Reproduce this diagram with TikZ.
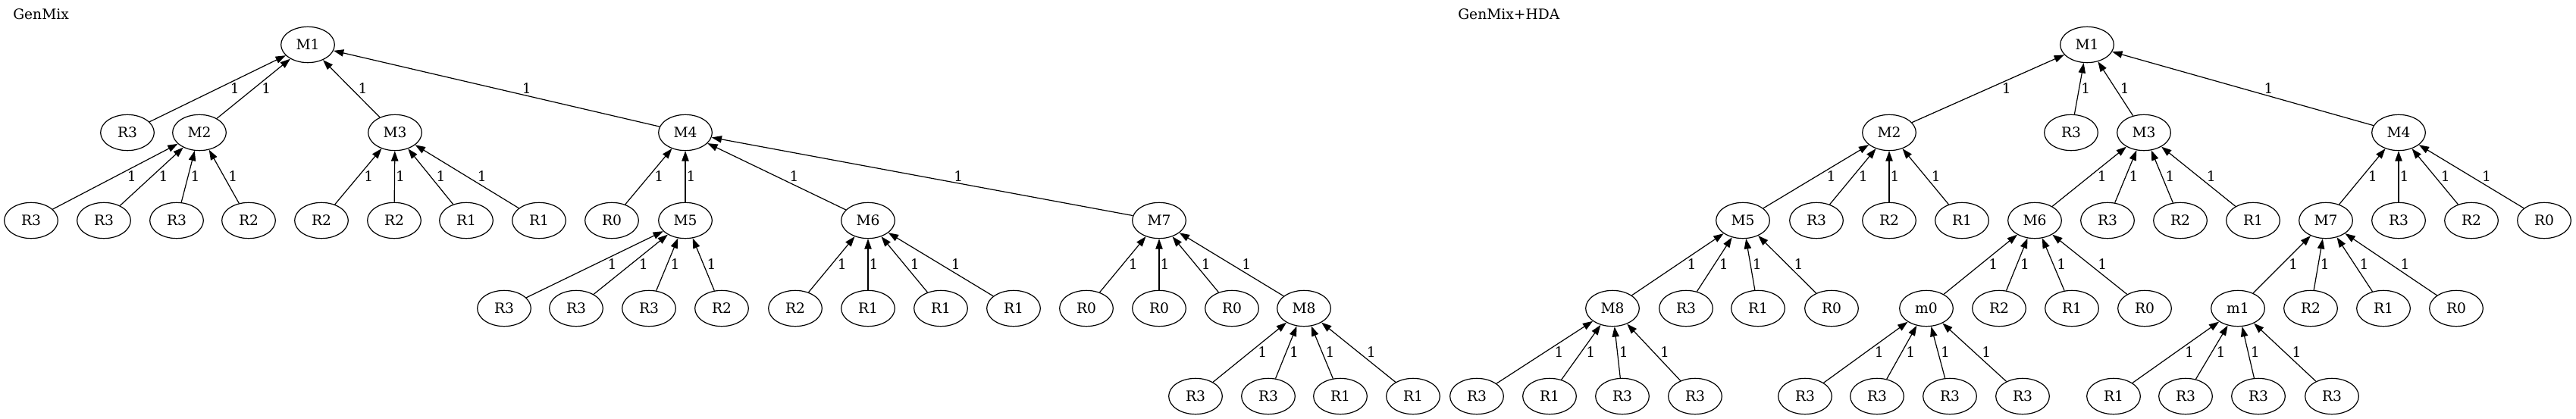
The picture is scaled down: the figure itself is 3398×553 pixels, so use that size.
\documentclass[tikz,border=0pt]{standalone}
\usepackage{fontspec}
\setmainfont{DejaVu Serif}
\usetikzlibrary{shapes.geometric,arrows.meta,calc}
\tikzset{
  nd/.style={draw, ellipse, line width=0.9pt, minimum width=53pt, minimum height=35.5pt, inner sep=0pt, font=\fontsize{14pt}{16pt}\selectfont},
  edge/.style={-{Triangle[length=10pt,width=7pt]}, line width=0.9pt},
  lbl/.style={inner sep=0pt, font=\fontsize{14pt}{16pt}\selectfont},
  ttl/.style={anchor=base west, inner sep=0pt, font=\fontsize{14pt}{16pt}\selectfont}
}
\newcommand\ed[2]{%
  \draw[edge] (#1) -- (#2);
  \path let \p1=(#1), \p2=(#2), \n1={abs(\x2-\x1)/abs(\y2-\y1)} in
    node[lbl] at ($(\p1)!0.5!(\p2)+({(7.5*\n1+7.5)*0.75pt},0pt)$) {1};%
}
\begin{document}
\begin{tikzpicture}[x=0.75pt,y=-0.75pt]
\useasboundingbox (0,0) rectangle (3398,553);
% titles
\node[ttl] (t1) at (17,26) {GenMix};
\node[ttl] (t2) at (1923,26) {GenMix+HDA};
% ---------------- left tree ----------------
\node[nd] (LM1) at (406,59) {M1};
\node[nd] (LRa) at (168,175) {R3};
\node[nd] (LM2) at (263,175) {M2};
\node[nd] (LM3) at (521,175) {M3};
\node[nd] (LM4) at (904,175) {M4};
\node[nd] (L2a) at (41,291) {R3};
\node[nd] (L2b) at (137,291) {R3};
\node[nd] (L2c) at (233,291) {R3};
\node[nd] (L2d) at (328,291) {R2};
\node[nd] (L3a) at (424,291) {R2};
\node[nd] (L3b) at (520,291) {R2};
\node[nd] (L3c) at (615,291) {R1};
\node[nd] (L3d) at (711,291) {R1};
\node[nd] (L4a) at (807,291) {R0};
\node[nd] (LM5) at (904,291) {M5};
\node[nd] (LM6) at (1145,291) {M6};
\node[nd] (LM7) at (1529,291) {M7};
\node[nd] (L5a) at (665,407) {R3};
\node[nd] (L5b) at (760,407) {R3};
\node[nd] (L5c) at (856,407) {R3};
\node[nd] (L5d) at (952,407) {R2};
\node[nd] (L6a) at (1049,407) {R2};
\node[nd] (L6b) at (1145,407) {R1};
\node[nd] (L6c) at (1241,407) {R1};
\node[nd] (L6d) at (1337,407) {R1};
\node[nd] (L7a) at (1433,407) {R0};
\node[nd] (L7b) at (1529,407) {R0};
\node[nd] (L7c) at (1625,407) {R0};
\node[nd] (LM8) at (1720,407) {M8};
\node[nd] (L8a) at (1577,523) {R3};
\node[nd] (L8b) at (1673,523) {R3};
\node[nd] (L8c) at (1768,523) {R1};
\node[nd] (L8d) at (1864,523) {R1};
\ed{LRa}{LM1}\ed{LM2}{LM1}\ed{LM3}{LM1}\ed{LM4}{LM1}
\ed{L2a}{LM2}\ed{L2b}{LM2}\ed{L2c}{LM2}\ed{L2d}{LM2}
\ed{L3a}{LM3}\ed{L3b}{LM3}\ed{L3c}{LM3}\ed{L3d}{LM3}
\ed{L4a}{LM4}\ed{LM5}{LM4}\ed{LM6}{LM4}\ed{LM7}{LM4}
\ed{L5a}{LM5}\ed{L5b}{LM5}\ed{L5c}{LM5}\ed{L5d}{LM5}
\ed{L6a}{LM6}\ed{L6b}{LM6}\ed{L6c}{LM6}\ed{L6d}{LM6}
\ed{L7a}{LM7}\ed{L7b}{LM7}\ed{L7c}{LM7}\ed{LM8}{LM7}
\ed{L8a}{LM8}\ed{L8b}{LM8}\ed{L8c}{LM8}\ed{L8d}{LM8}
% ---------------- right tree ----------------
\node[nd] (RM1) at (2753,59) {M1};
\node[nd] (RM2) at (2492,175) {M2};
\node[nd] (RRa) at (2732,175) {R3};
\node[nd] (RM3) at (2828,175) {M3};
\node[nd] (RM4) at (3164,175) {M4};
\node[nd] (RM5) at (2299,291) {M5};
\node[nd] (R2b) at (2396,291) {R3};
\node[nd] (R2c) at (2492,291) {R2};
\node[nd] (R2d) at (2588,291) {R1};
\node[nd] (RM6) at (2684,291) {M6};
\node[nd] (R3b) at (2780,291) {R3};
\node[nd] (R3c) at (2876,291) {R2};
\node[nd] (R3d) at (2972,291) {R1};
\node[nd] (RM7) at (3068,291) {M7};
\node[nd] (R4b) at (3164,291) {R3};
\node[nd] (R4c) at (3260,291) {R2};
\node[nd] (R4d) at (3356,291) {R0};
\node[nd] (RM8) at (2127,407) {M8};
\node[nd] (R5b) at (2224,407) {R3};
\node[nd] (R5c) at (2319,407) {R1};
\node[nd] (R5d) at (2416,407) {R0};
\node[nd] (Rm0) at (2541,407) {m0};
\node[nd] (R6b) at (2637,407) {R2};
\node[nd] (R6c) at (2733,407) {R1};
\node[nd] (R6d) at (2829,407) {R0};
\node[nd] (Rm1) at (2952,407) {m1};
\node[nd] (R7b) at (3048,407) {R2};
\node[nd] (R7c) at (3144,407) {R1};
\node[nd] (R7d) at (3240,407) {R0};
\node[nd] (R8a) at (1948,523) {R3};
\node[nd] (R8b) at (2044,523) {R1};
\node[nd] (R8c) at (2140,523) {R3};
\node[nd] (R8d) at (2236,523) {R3};
\node[nd] (R0a) at (2381,523) {R3};
\node[nd] (R0b) at (2476,523) {R3};
\node[nd] (R0c) at (2572,523) {R3};
\node[nd] (R0d) at (2668,523) {R3};
\node[nd] (R1a) at (2788,523) {R1};
\node[nd] (R1b) at (2883,523) {R3};
\node[nd] (R1c) at (2979,523) {R3};
\node[nd] (R1d) at (3076,523) {R3};
\ed{RM2}{RM1}\ed{RRa}{RM1}\ed{RM3}{RM1}\ed{RM4}{RM1}
\ed{RM5}{RM2}\ed{R2b}{RM2}\ed{R2c}{RM2}\ed{R2d}{RM2}
\ed{RM6}{RM3}\ed{R3b}{RM3}\ed{R3c}{RM3}\ed{R3d}{RM3}
\ed{RM7}{RM4}\ed{R4b}{RM4}\ed{R4c}{RM4}\ed{R4d}{RM4}
\ed{RM8}{RM5}\ed{R5b}{RM5}\ed{R5c}{RM5}\ed{R5d}{RM5}
\ed{Rm0}{RM6}\ed{R6b}{RM6}\ed{R6c}{RM6}\ed{R6d}{RM6}
\ed{Rm1}{RM7}\ed{R7b}{RM7}\ed{R7c}{RM7}\ed{R7d}{RM7}
\ed{R8a}{RM8}\ed{R8b}{RM8}\ed{R8c}{RM8}\ed{R8d}{RM8}
\ed{R0a}{Rm0}\ed{R0b}{Rm0}\ed{R0c}{Rm0}\ed{R0d}{Rm0}
\ed{R1a}{Rm1}\ed{R1b}{Rm1}\ed{R1c}{Rm1}\ed{R1d}{Rm1}
\end{tikzpicture}
\end{document}
